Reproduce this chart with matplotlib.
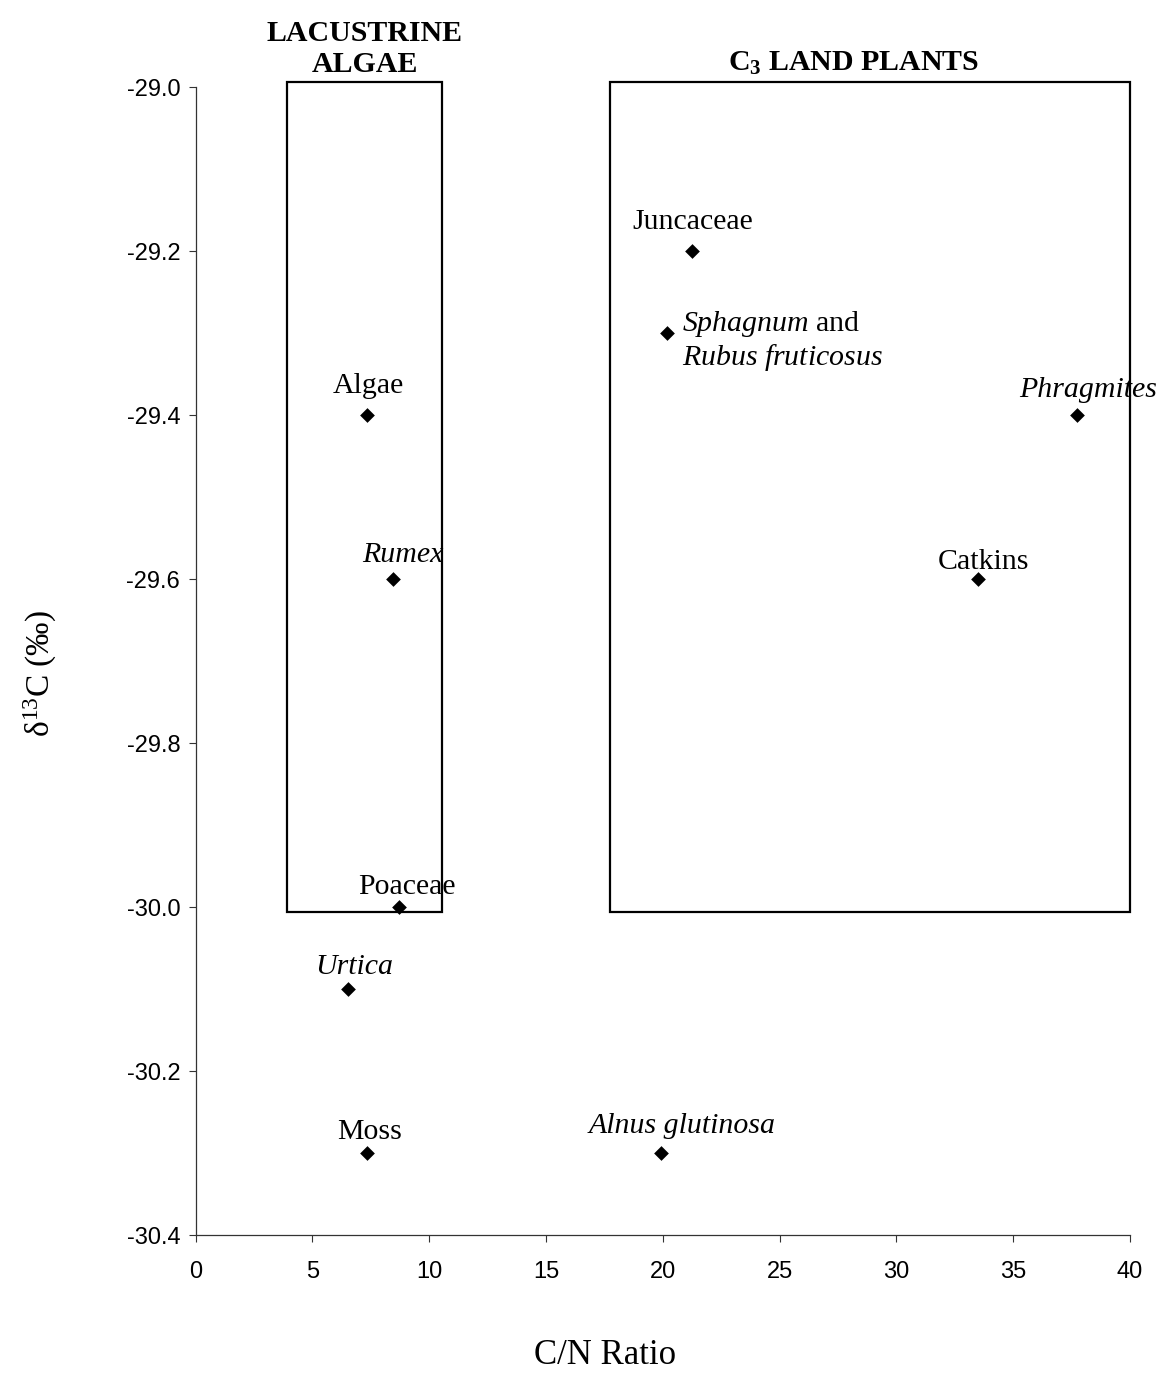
import matplotlib
matplotlib.use("Agg")
import matplotlib.pyplot as plt
import matplotlib.patches as mpatches

plt.rcParams["mathtext.fontset"] = "custom"
plt.rcParams["mathtext.rm"] = "Liberation Serif"
plt.rcParams["mathtext.it"] = "Liberation Serif:italic"
plt.rcParams["mathtext.bf"] = "Liberation Serif:bold"

# C/N ratio and d13C for each sample
names = ["Juncaceae", "Sphagnum", "Algae", "Phragmites", "Rumex",
         "Catkins", "Poaceae", "Urtica", "Moss", "Alnus glutinosa"]
cn_ratio = [21.25, 20.17, 7.35, 37.75, 8.47, 33.48, 8.69, 6.52, 7.33, 19.94]
d13c = [-29.2, -29.3, -29.4, -29.4, -29.6, -29.6, -30.0, -30.1, -30.3, -30.3]

labels = {
    "Juncaceae": "Juncaceae",
    "Sphagnum": "$\\mathit{Sphagnum}$ and\n$\\mathit{Rubus\\ fruticosus}$",
    "Algae": "Algae",
    "Phragmites": "Phragmites",
    "Rumex": "Rumex",
    "Catkins": "Catkins",
    "Poaceae": "Poaceae",
    "Urtica": "Urtica",
    "Moss": "Moss",
    "Alnus glutinosa": "Alnus glutinosa",
}
italic = {"Phragmites", "Rumex", "Urtica", "Alnus glutinosa"}

# label placement relative to the marker, in pixels (dx, dy, ha)
offsets = {
    "Juncaceae": (1, 22, "center"),
    "Sphagnum": (15, -32, "left"),
    "Algae": (1, 22, "center"),
    "Phragmites": (11, 18, "center"),
    "Rumex": (9, 17, "center"),
    "Catkins": (6, 10, "center"),
    "Poaceae": (8, 13, "center"),
    "Urtica": (6, 15, "center"),
    "Moss": (3, 14, "center"),
    "Alnus glutinosa": (21, 20, "center"),
}

# source fields: (x0, x1, y0, y1)
fields = {
    "LACUSTRINE\nALGAE": (3.92, 10.57, -30.006, -28.993),
    "$\\mathbf{C_3}$ LAND PLANTS": (17.73, 40.0, -30.006, -28.993),
}
field_title_offset = {
    "LACUSTRINE\nALGAE": (0, 15),
    "$\\mathbf{C_3}$ LAND PLANTS": (-16, 16),
}

xticks = list(range(0, 41, 5))
yticks = [-29.0, -29.2, -29.4, -29.6, -29.8, -30.0, -30.2, -30.4]

W, H = 1163, 1373
fig = plt.figure(figsize=(W / 100, H / 100), dpi=100)
ax = fig.add_axes([195.5 / W, 1 - 1235 / H, (1130 - 195.5) / W, (1235 - 87.3) / H])

serif = "Liberation Serif"

for title, (x0, x1, y0, y1) in fields.items():
    ax.add_patch(mpatches.Rectangle((x0, y0), x1 - x0, y1 - y0, fill=False,
                                    ec="black", lw=1.6, clip_on=False, zorder=2))
    dx, dy = field_title_offset[title]
    ax.annotate(title, ((x0 + x1) / 2, 1), xycoords=("data", "axes fraction"),
                xytext=(dx, dy), textcoords="offset pixels", ha="center",
                va="baseline", family=serif, fontweight="bold", fontsize=21.5,
                linespacing=1.2, annotation_clip=False)

ax.scatter(cn_ratio, d13c, marker="D", s=7.5 ** 2, color="black", zorder=3,
           clip_on=False, linewidths=0)

for name, x, y in zip(names, cn_ratio, d13c):
    dx, dy, ha = offsets[name]
    ax.annotate(labels[name], (x, y), xytext=(dx, dy), textcoords="offset pixels",
                ha=ha, va="baseline", family=serif, fontsize=21.5,
                fontstyle="italic" if name in italic else "normal",
                linespacing=1.15, annotation_clip=False, zorder=4)

ax.set_xlim(0, 40)
ax.set_ylim(-30.4, -29.0)
for side in ("top", "right"):
    ax.spines[side].set_visible(False)
for side in ("left", "bottom"):
    ax.spines[side].set_color("#333333")
    ax.spines[side].set_linewidth(0.9)

ax.set_xticks(xticks, labels=[str(v) for v in xticks])
ax.set_yticks(yticks, labels=[f"{v:.1f}" for v in yticks])
ax.tick_params(axis="both", direction="out", length=5, width=0.8, color="#333333",
               labelsize=17)
ax.tick_params(axis="x", pad=14)
ax.tick_params(axis="y", pad=6)
for lab in ax.get_xticklabels() + ax.get_yticklabels():
    lab.set_family("Liberation Sans")

fig.text(40 / W, 1 - 674 / H, "δ$^{13}$C (‰)", rotation=90, ha="center",
         va="center", family=serif, fontsize=24)
fig.text(605 / W, 1 - 1355 / H, "C/N Ratio", ha="center", va="center",
         family=serif, fontsize=25)

fig.savefig("out.png", dpi=100)
